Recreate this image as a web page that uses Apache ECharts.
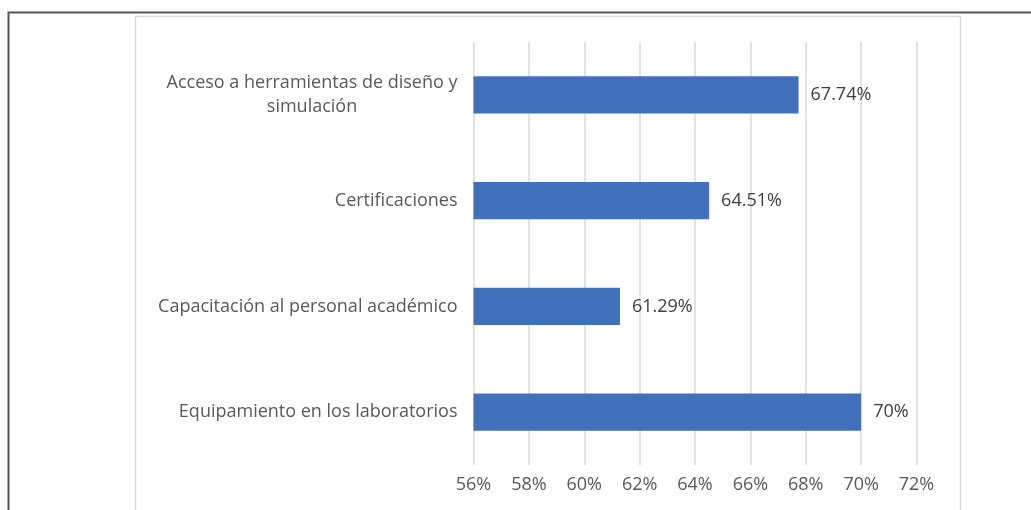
<!DOCTYPE html>
<html>
<head>
<meta charset="utf-8">
<title>Chart</title>
<script src="https://cdn.jsdelivr.net/npm/echarts@6/dist/echarts.min.js"></script>
<style>
  html, body { margin: 0; padding: 0; background: #fff; }
  #chart { width: 1031px; height: 510px; }
</style>
</head>
<body>
<div id="chart"></div>
<script>
// categories, top to bottom
const categories = [
  'Acceso a herramientas de diseño y\nsimulación',
  'Certificaciones',
  'Capacitación al personal académico',
  'Equipamiento en los laboratorios'
]
// percentage values
const values = [67.74, 64.51, 61.29, 70]
// value labels as printed
const valueLabels = ['67.74%', '64.51%', '61.29%', '70%']
// x axis ticks
const xMin = 56
const xMax = 72
const xStep = 2

const chart = echarts.init(document.getElementById('chart'))

chart.setOption({
  animation: false,
  textStyle: {
    fontFamily: 'Open Sans'
  },
  // marco exterior y caja del gráfico
  graphic: [
    {
      type: 'rect',
      shape: { x: 135.5, y: 16.5, width: 825, height: 500 },
      style: { fill: 'none', stroke: '#d9d9d9', lineWidth: 1.5 },
      silent: true
    },
    {
      type: 'polyline',
      shape: { points: [[8.5, 520], [8.5, 12.5], [1040, 12.5]] },
      style: { fill: 'none', stroke: '#555', lineWidth: 2 },
      silent: true
    }
  ],
  grid: {
    left: 473.5,
    right: 1031 - 916.5,
    top: 42,
    bottom: 510 - 465,
    containLabel: false
  },
  xAxis: {
    type: 'value',
    min: xMin,
    max: xMax,
    interval: xStep,
    axisLine: { show: false },
    axisTick: { show: false },
    axisLabel: {
      color: '#595959',
      fontSize: 18,
      margin: 11,
      formatter: '{value}%'
    },
    splitLine: {
      lineStyle: { color: '#d9d9d9', width: 1.5 }
    }
  },
  yAxis: {
    type: 'category',
    inverse: true,
    data: categories,
    axisLine: { show: false },
    axisTick: { show: false },
    axisLabel: {
      color: '#595959',
      fontSize: 18,
      margin: 16,
      align: 'right',
      // lineas centradas dentro de la etiqueta
      formatter: v => v.split('\n').map(s => '{c|' + s + '}').join('\n'),
      rich: {
        c: {
          color: '#595959',
          fontSize: 18,
          lineHeight: 24,
          align: 'center'
        }
      }
    }
  },
  series: [
    {
      type: 'bar',
      data: values,
      barWidth: '35%',
      itemStyle: { color: '#4170bc' },
      label: {
        show: true,
        position: 'right',
        distance: 12,
        color: '#404040',
        fontSize: 18,
        formatter: p => valueLabels[p.dataIndex]
      }
    }
  ]
})
</script>
</body>
</html>
